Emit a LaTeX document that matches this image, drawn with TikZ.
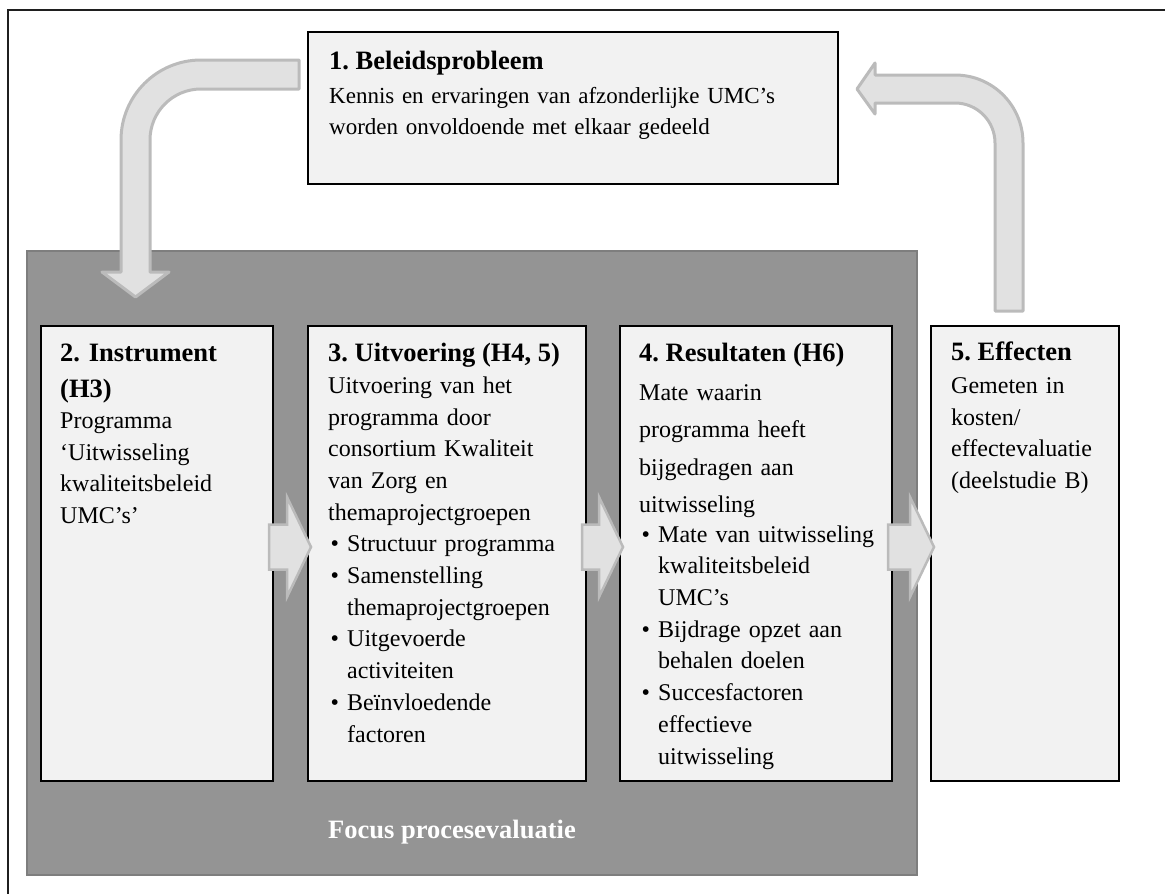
\documentclass[tikz,border=0pt]{standalone}
\usepackage{fontspec}
\setmainfont{Liberation Serif}
\usetikzlibrary{positioning,calc}
\frenchspacing

\definecolor{boxfill}{HTML}{F2F2F2}
\definecolor{panelfill}{HTML}{949494}
\definecolor{paneledge}{HTML}{7E7E7E}
\definecolor{arrowfill}{HTML}{E1E1E1}
\definecolor{arrowedge}{HTML}{BBBBBB}

\newcommand{\kopfont}{\fontsize{26.5}{36}\selectfont\bfseries}
\newcommand{\tekstfont}{\fontsize{24}{31.7}\selectfont}
\newcommand{\kbul}{\hspace*{2.5pt}\makebox[16.5pt][l]{\textbullet}}
\newcommand{\kind}{\hspace*{19pt}}
% block arrow from one box to the next
\newcommand{\flowarrow}[2]{%
  \draw[flatarrow] ($(#1.east)+(-4,-29)$) -| ($(#2.west)+(-21,-56.5)$)
    -- ($(#2.west)+(3,-6.5)$) -- ($(#2.west)+(-21,43.5)$) |- ($(#1.east)+(-4,16)$) -- cycle;}

\begin{document}
\begin{tikzpicture}
			[x=1pt, y=-1pt,
			 block/.style={rectangle, draw=black, line width=1.6pt, fill=boxfill, anchor=north west, inner sep=0pt, outer sep=0pt},
			 panelbox/.style={rectangle, draw=paneledge, line width=1.5pt, fill=panelfill, anchor=north west, inner sep=0pt, outer sep=0pt},
			 kop/.style={anchor=base west, inner sep=0pt, font=\kopfont},
			 tekst/.style={anchor=north west, inner sep=0pt, align=left, text width=600pt, font=\tekstfont},
			 bentarrow/.style={fill=arrowfill, draw=arrowedge, line width=3pt, line join=round},
			 flatarrow/.style={fill=arrowfill, draw=arrowedge, line width=2.5pt, line join=miter}]
			\useasboundingbox (0,0) rectangle (1165,894);
			\clip (0,0) rectangle (1165,894);
			\draw[line width=1.8pt, draw=black!88] (8,10) rectangle (1200,930);

			\node [panelbox, minimum width=890pt, minimum height=624pt] (panel) at (27,251) {};

			% boxes
			\node [block, minimum width=530pt, minimum height=152pt] (beleid) at (308,32) {};
			\node [block, minimum width=232pt, minimum height=455pt] (instrument) at (41,326) {};
			\node [block, minimum width=278pt, minimum height=455pt, right=35pt of instrument] (uitvoering) {};
			\node [block, minimum width=272pt, minimum height=455pt, right=34pt of uitvoering] (resultaten) {};
			\node [block, minimum width=188pt, minimum height=455pt, right=39pt of resultaten] (effecten) {};

			% texts
			\node [kop] (beleidkop) at ($(beleid.north west)+(21,37)$) {1. Beleidsprobleem};
			\node [tekst, font=\fontsize{23}{31.5}\selectfont] (beleidtekst) at ($(beleid.north west)+(21,49)$)
				{\strut Kennis en ervaringen van afzonderlijke UMC’s\\worden onvoldoende met elkaar gedeeld};

			\node [tekst, font=\kopfont] (instrumentkop) at ($(instrument.north west)+(19,10)$) {\strut 2. Instrument\\(H3)};
			\node [tekst] (instrumenttekst) at ($(instrument.north west)+(19,80)$)
				{\strut Programma\\‘Uitwisseling\\kwaliteitsbeleid\\UMC’s’};

			\node [kop] (uitvoeringkop) at ($(uitvoering.north west)+(20,35)$) {3. Uitvoering (H4, 5)};
			\node [tekst] (uitvoeringtekst) at ($(uitvoering.north west)+(20,45)$)
				{\strut Uitvoering van het\\programma door\\consortium Kwaliteit\\van Zorg en\\themaprojectgroepen\\
				 \kbul Structuur programma\\\kbul Samenstelling\\\kind themaprojectgroepen\\
				 \kbul Uitgevoerde\\\kind activiteiten\\\kbul Beïnvloedende\\\kind factoren};

			\node [kop] (resultatenkop) at ($(resultaten.north west)+(19,35)$) {4. Resultaten (H6)};
			\node [tekst, font=\fontsize{24}{37.5}\selectfont] (resultatentekst) at ($(resultaten.north west)+(19,47.75)$)
				{\strut Mate waarin\\programma heeft\\bijgedragen aan\\uitwisseling};
			\node [tekst] (resultatenpunten) at ($(resultaten.north west)+(19,193.8)$)
				{\strut\kbul Mate van uitwisseling\\\kind kwaliteitsbeleid\\\kind UMC’s\\
				 \kbul Bijdrage opzet aan\\\kind behalen doelen\\
				 \kbul Succesfactoren\\\kind effectieve\\\kind uitwisseling};

			\node [kop] (effectenkop) at ($(effecten.north west)+(20,34)$) {5. Effecten};
			\node [tekst] (effectentekst) at ($(effecten.north west)+(20,45)$)
				{\strut Gemeten in\\kosten/\\effectevaluatie\\(deelstudie B)};

			\node [kop, text=white] (focus) at ($(uitvoering.south west)+(20,57)$) {Focus procesevaluatie};

			% bent arrows
			\coordinate (staartA) at ($(beleid.north west)+(-9,28)$);
			\coordinate (puntA) at ($(instrument.north west)+(94.5,-29)$);
			\coordinate (hoekA) at ($(instrument.north west)+(160,-186)$);
			\draw[bentarrow] (staartA) -- ($(hoekA)+(0,-80)$) .. controls +(-44.2,0) and +(0,-44.2) .. ($(hoekA)+(-80,0)$)
				-- ++(0,132) -- ++(-19,0) -- (puntA) -- ++(33.5,-25) -- ++(-19,0)
				-- ($(hoekA)+(-51,0)$) .. controls +(0,-28.2) and +(-28.2,0) .. ($(hoekA)+(0,-51)$)
				-- ($(staartA)+(0,29)$) -- cycle;

			\coordinate (staartB) at ($(effecten.north west)+(64,-15)$);
			\coordinate (puntB) at ($(beleid.east)+(19,-19)$);
			\coordinate (hoekB) at ($(effecten.north west)+(24,-183)$);
			\draw[bentarrow] (staartB) -- ++(28,0) -- ($(hoekB)+(68,0)$) .. controls +(0,-37.6) and +(37.6,0) .. ($(hoekB)+(0,-68)$)
				-- ++(-80,0) -- ++(0,-12) -- (puntB) -- ++(18,25) -- ++(0,-11)
				-- ($(hoekB)+(0,-40)$) .. controls +(22.1,0) and +(0,-22.1) .. ($(hoekB)+(40,0)$) -- cycle;

			% straight arrows
			\flowarrow{instrument}{uitvoering}
			\flowarrow{uitvoering}{resultaten}
			\flowarrow{resultaten}{effecten}
		\end{tikzpicture}
\end{document}
